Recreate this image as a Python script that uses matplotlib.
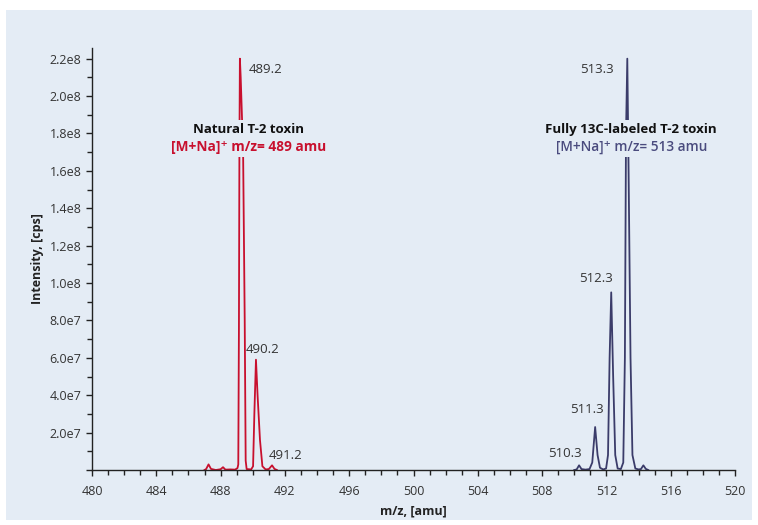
import matplotlib
matplotlib.use("Agg")
import matplotlib.pyplot as plt
from matplotlib.ticker import MultipleLocator, FuncFormatter
from matplotlib.patches import Rectangle

plt.rcParams["font.family"] = ["Open Sans", "DejaVu Sans"]

BG = "#e4ecf5"
RED = "#c8102e"
NAVY = "#3b3c6a"
TXT = "#333333"

# natural T-2 toxin, [M+Na]+ cluster
mz_nat = [487.0, 487.1, 487.25, 487.4, 487.7, 488.0, 488.15, 488.3, 488.6, 488.9,
          489.05, 489.1, 489.14, 489.17, 489.2, 489.25, 489.4, 489.5, 489.56,
          489.62, 489.9, 490.02, 490.1, 490.2, 490.3, 490.45, 490.6, 490.8,
          491.0, 491.2, 491.35, 491.5]
int_nat = [0.0, 0.5e6, 3.0e6, 0.6e6, 0.0, 0.4e6, 1.5e6, 0.2e6, 0.3e6, 0.2e6,
           1.0e6, 3.0e6, 7.5e7, 1.7e8, 2.2e8, 2.1e8, 1.7e8, 8.0e7, 5.0e6,
           0.5e6, 0.3e6, 2.0e6, 3.0e7, 5.9e7, 4.0e7, 1.6e7, 2.0e6, 0.3e6,
           0.5e6, 2.5e6, 0.6e6, 0.0]

# fully 13C-labeled T-2 toxin
mz_lab = [510.0, 510.15, 510.3, 510.45, 510.7, 510.95, 511.12, 511.3, 511.45,
          511.6, 511.8, 511.98, 512.1, 512.2, 512.3, 512.42, 512.55, 512.7,
          512.9, 513.05, 513.15, 513.22, 513.3, 513.38, 513.5, 513.62, 513.8,
          514.0, 514.15, 514.3, 514.45, 514.6]
int_lab = [0.0, 0.3e6, 2.5e6, 0.5e6, 0.2e6, 0.5e6, 4.0e6, 2.3e7, 8.0e6,
           1.2e6, 0.3e6, 0.8e6, 8.0e6, 6.0e7, 9.5e7, 5.0e7, 8.0e6, 0.8e6,
           0.5e6, 4.0e6, 6.0e7, 1.8e8, 2.2e8, 1.6e8, 6.0e7, 8.0e6, 0.8e6,
           0.3e6, 0.5e6, 2.5e6, 0.6e6, 0.0]

# peak labels
pk_nat_mz = [489.2, 490.2, 491.2]
pk_nat_int = [2.2e8, 5.9e7, 2.5e6]
pk_lab_mz = [510.3, 511.3, 512.3, 513.3]
pk_lab_int = [2.5e6, 2.3e7, 9.5e7, 2.2e8]

fig = plt.figure(figsize=(7.58, 5.25), dpi=100, facecolor="white")
fig.patches.append(Rectangle((6 / 758, 5 / 525), 746 / 758, 510 / 525,
                             transform=fig.transFigure, facecolor=BG,
                             edgecolor="none", zorder=-10))

ax = fig.add_axes([92 / 758, 55 / 525, 643 / 758, 422 / 525])
ax.set_facecolor("none")

ax.plot(mz_nat, int_nat, color=RED, lw=1.3, zorder=2)
ax.plot(mz_lab, int_lab, color=NAVY, lw=1.3, zorder=2)

ax.set_xlim(480, 520)
ax.set_ylim(0, 2.257e8)

for s in ["top", "right"]:
    ax.spines[s].set_visible(False)
for s in ["left", "bottom"]:
    ax.spines[s].set_color("#222222")
    ax.spines[s].set_linewidth(1.0)
ax.spines["bottom"].set_bounds(480, 520)

ax.xaxis.set_major_locator(MultipleLocator(4))
ax.xaxis.set_minor_locator(MultipleLocator(1))
ax.yaxis.set_major_locator(MultipleLocator(2e7))
ax.yaxis.set_minor_locator(MultipleLocator(1e7))
ax.yaxis.set_major_formatter(FuncFormatter(
    lambda v, p: "" if v == 0 else ("%.1e" % v).replace("e+0", "e")))
ax.tick_params(which="both", direction="out", colors="#222222",
               labelcolor=TXT, labelsize=9)
ax.tick_params(which="major", length=4, width=1)
ax.tick_params(which="minor", length=3.5, width=1)
ax.tick_params(axis="x", which="major", pad=6.5)

ax.set_xlabel("m/z, [amu]", fontsize=9, fontweight="bold", color="#222222",
              labelpad=5)
ax.set_ylabel("Intensity, [cps]", fontsize=9, fontweight="bold",
              color="#222222", labelpad=4)

# peak m/z labels
ax.text(pk_nat_mz[0] + 0.55, pk_nat_int[0] - 0.25e7, "%.1f" % pk_nat_mz[0],
        fontsize=9.5, color=TXT, ha="left", va="top")
ax.text(pk_nat_mz[1] + 0.4, pk_nat_int[1] + 0.2e7, "%.1f" % pk_nat_mz[1],
        fontsize=9.5, color=TXT, ha="center", va="bottom")
ax.text(pk_nat_mz[2] + 0.85, pk_nat_int[2] + 0.2e7, "%.1f" % pk_nat_mz[2],
        fontsize=9.5, color=TXT, ha="center", va="bottom")
ax.text(pk_lab_mz[0] - 0.9, pk_lab_int[0] + 0.3e7, "%.1f" % pk_lab_mz[0],
        fontsize=9.5, color=TXT, ha="center", va="bottom")
ax.text(pk_lab_mz[1] - 0.5, pk_lab_int[1] + 0.6e7, "%.1f" % pk_lab_mz[1],
        fontsize=9.5, color=TXT, ha="center", va="bottom")
ax.text(pk_lab_mz[2] + 0.1, pk_lab_int[2] + 0.4e7, "%.1f" % pk_lab_mz[2],
        fontsize=9.5, color=TXT, ha="right", va="bottom")
ax.text(pk_lab_mz[3] - 0.85, pk_lab_int[3] - 0.25e7, "%.1f" % pk_lab_mz[3],
        fontsize=9.5, color=TXT, ha="right", va="top")

# compound annotations, boxed so the peaks pass behind them
box = dict(facecolor=BG, edgecolor="none", pad=2.5)
ax.text(489.75, 1.82e8, "Natural T-2 toxin", fontsize=9.5, fontweight="bold",
        color="#111111", ha="center", va="center", bbox=box, zorder=3)
ax.text(489.75, 1.73e8, "[M+Na]\u207a m/z= 489 amu", fontsize=9.8,
        fontweight="bold", color=RED, ha="center", va="center", bbox=box,
        zorder=3)
ax.text(513.5, 1.82e8, "Fully 13C-labeled T-2 toxin", fontsize=9.5,
        fontweight="bold", color="#111111", ha="center", va="center",
        bbox=box, zorder=3)
ax.text(513.55, 1.73e8, "[M+Na]\u207a m/z= 513 amu", fontsize=9.8,
        fontweight="semibold", color="#4a4b7e", ha="center", va="center",
        bbox=box, zorder=3)

fig.savefig("out.png", dpi=100, facecolor="white")
